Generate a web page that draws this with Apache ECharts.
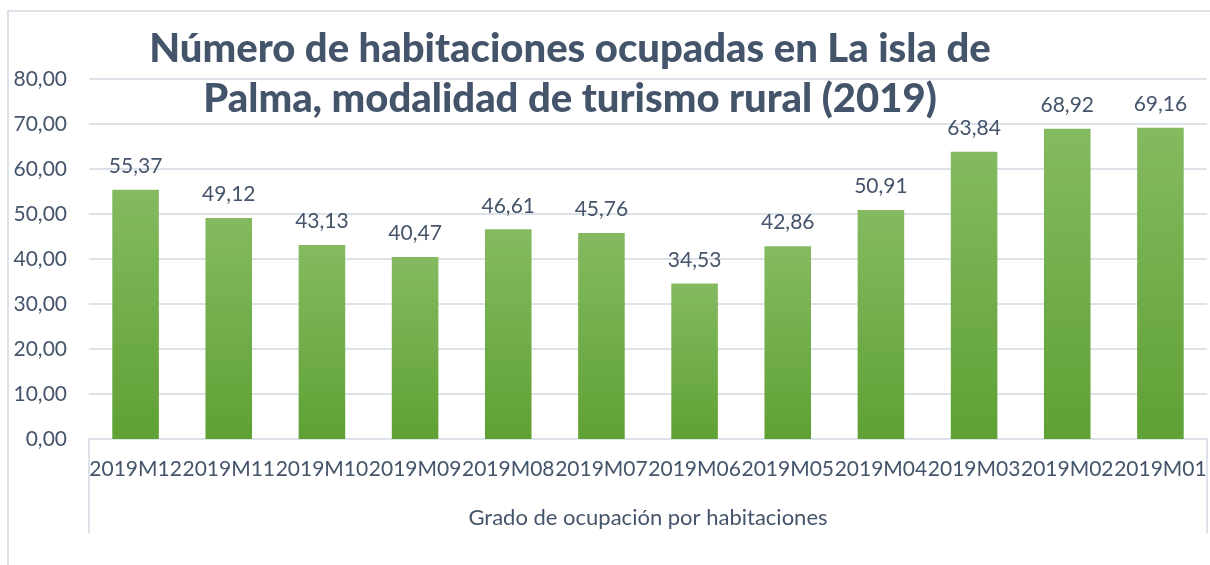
<!DOCTYPE html>
<html>
<head>
<meta charset="utf-8">
<script src="https://cdn.jsdelivr.net/npm/echarts@6/dist/echarts.min.js"></script>
<style>
  html, body { margin: 0; padding: 0; background: #fff; }
  #chart { width: 1210px; height: 565px; }
</style>
</head>
<body>
<div id="chart"></div>
<script>
// datos
const meses = ['2019M12', '2019M11', '2019M10', '2019M09', '2019M08', '2019M07',
  '2019M06', '2019M05', '2019M04', '2019M03', '2019M02', '2019M01']
const ocupacion = [55.37, 49.12, 43.13, 40.47, 46.61, 45.76, 34.53, 42.86, 50.91, 63.84, 68.92, 69.16]
const grupo = ['Grado de ocupación por habitaciones']

const textColor = '#44546A'
const lineColor = '#DDE2E8'
const fuente = 'Lato'

const coma = v => v.toFixed(2).replace('.', ',')

const myChart = echarts.init(document.getElementById('chart'))

const option = {
  backgroundColor: '#fff',
  animation: false,
  textStyle: { fontFamily: fuente },
  title: {
    text: 'Número de habitaciones ocupadas en La isla de\nPalma, modalidad de turismo rural (2019)',
    left: 565,
    top: 19,
    textAlign: 'center',
    textStyle: {
      fontFamily: fuente,
      fontSize: 40,
      fontWeight: 900,
      lineHeight: 50,
      color: textColor,
    },
  },
  graphic: [
    {
      type: 'rect',
      shape: { x: 8, y: 11, width: 1220, height: 580 },
      style: { fill: 'none', stroke: lineColor, lineWidth: 2 },
      silent: true,
    },
  ],
  grid: { left: 89, right: 3, top: 79, bottom: 126 },
  xAxis: [
    {
      type: 'category',
      data: meses,
      axisLine: { show: true, lineStyle: { color: lineColor, width: 2 } },
      axisTick: { show: false },
      axisLabel: {
        interval: 0,
        margin: 20,
        fontSize: 21,
        color: textColor,
        fontFamily: fuente,
      },
    },
    {
      type: 'category',
      data: grupo,
      position: 'bottom',
      axisLine: { show: false },
      axisTick: { show: true, length: 94, lineStyle: { color: lineColor, width: 2 } },
      axisLabel: {
        margin: 68,
        fontSize: 22,
        color: textColor,
        fontFamily: fuente,
      },
    },
  ],
  yAxis: {
    type: 'value',
    min: 0,
    max: 80,
    interval: 10,
    axisLine: { show: false },
    axisTick: { show: false },
    axisLabel: {
      formatter: coma,
      fontSize: 21,
      margin: 22,
      color: textColor,
      fontFamily: fuente,
    },
    splitLine: { lineStyle: { color: lineColor, width: 2 } },
  },
  series: [
    {
      type: 'bar',
      data: ocupacion,
      barWidth: '50%',
      itemStyle: {
        color: new echarts.graphic.LinearGradient(0, 0, 0, 1, [
          { offset: 0, color: '#84BA60' },
          { offset: 1, color: '#5FA134' },
        ]),
      },
      label: {
        show: true,
        position: 'top',
        distance: 13,
        formatter: p => coma(p.value),
        fontSize: 21,
        color: textColor,
        fontFamily: fuente,
      },
    },
  ],
}

myChart.setOption(option)
</script>
</body>
</html>
